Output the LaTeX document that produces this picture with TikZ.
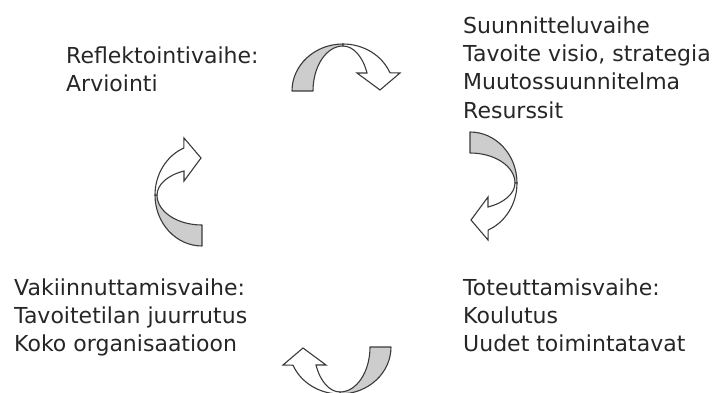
\documentclass[tikz,border=0pt]{standalone}
\usepackage{fontspec}
\setmainfont{DejaVu Sans}
\definecolor{txt}{HTML}{262626}
\definecolor{edge}{HTML}{3A3A3A}
\definecolor{band}{HTML}{CDCDCD}
\tikzset{
  backpart/.style={fill=band,draw=edge,line width=1.1pt,line join=round},
  frontpart/.style={fill=white,draw=edge,line width=1.1pt,line join=miter},
  phase/.style={anchor=base west,inner sep=0pt,text=txt,font=\fontsize{22}{28.4}\selectfont},
  cyclearrow/.pic={
    \filldraw[backpart] (-51pt,0pt) arc[start angle=180,end angle=90,x radius=51pt,y radius=47pt]
      -- (0pt,45pt) arc[start angle=90,end angle=180,x radius=30pt,y radius=45pt] -- cycle;
    \filldraw[frontpart] (0pt,47pt) arc[start angle=90,end angle=22.8,x radius=51pt,y radius=47pt]
      -- (57pt,18pt) -- (37pt,1pt) -- (14pt,18pt) -- (24pt,18pt)
      arc[start angle=23.6,end angle=90,x radius=26.2pt,y radius=45pt] -- cycle;
  }
}
\newcommand{\phaselines}[1]{\begin{tabular}[t]{@{}l@{}}#1\end{tabular}}
\begin{document}
\begin{tikzpicture}[x=1pt,y=1pt]
\useasboundingbox (0,0) rectangle (721,392);
\node[phase] (refl) at (66,329) {\phaselines{Reflektointivaihe:\\Arviointi}};
\node[phase] (suun) at (463,359) {\phaselines{Suunnitteluvaihe\\Tavoite visio, strategia\\Muutossuunnitelma\\Resurssit}};
\node[phase] (vak) at (14,97) {\phaselines{Vakiinnuttamisvaihe:\\Tavoitetilan juurrutus\\Koko organisaatioon}};
\node[phase] (tot) at (463,97) {\phaselines{Toteuttamisvaihe:\\Koulutus\\Uudet toimintatavat}};
\pic (atop) at (343,301) {cyclearrow};
\pic[rotate=-90] (aright) at (470,209) {cyclearrow};
\pic[rotate=180] (abottom) at (340,45) {cyclearrow};
\pic[rotate=90] (aleft) at (202,197) {cyclearrow};
\end{tikzpicture}
\end{document}
